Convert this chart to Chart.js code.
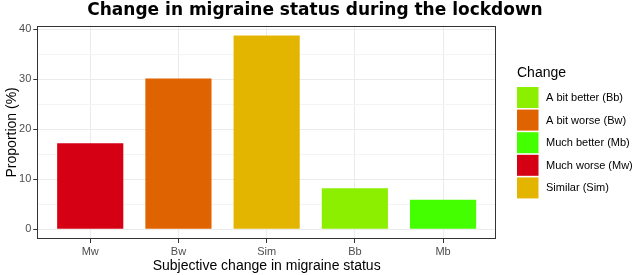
<!DOCTYPE html>
<html>
<head>
<meta charset="utf-8">
<script src="https://cdn.jsdelivr.net/npm/chart.js@4.4.1/dist/chart.umd.min.js"></script>
<style>
  html, body { margin: 0; padding: 0; background: #fff; }
  #wrap { width: 637px; height: 275px; }
</style>
</head>
<body>
<div id="wrap"><canvas id="migraineChart" width="637" height="275"></canvas></div>
<script>
// data
const categories = ['Mw', 'Bw', 'Sim', 'Bb', 'Mb'];
const proportions = [17.2, 30.2, 38.8, 8.2, 5.9];
const barColors = ['#D50013', '#DF6300', '#E3B500', '#8CEF00', '#44FF00'];
const yTicks = [0, 5, 10, 15, 20, 25, 30, 35, 40];

// legend (alphabetical, like ggplot)
const legendLabels = ['A bit better (Bb)', 'A bit worse (Bw)', 'Much better (Mb)', 'Much worse (Mw)', 'Similar (Sim)'];
const legendCodes = ['Bb', 'Bw', 'Mb', 'Mw', 'Sim'];

const chartTitle = 'Change in migraine status during the lockdown';
const fontFamily = '"Liberation Sans", Arial, sans-serif';
const yMax = Math.max(...proportions);
const yPad = yMax * 0.05;

const panelPlugin = {
    id: 'panelPlugin',
    afterDraw(chart) {
        const ctx = chart.ctx;
        const a = chart.chartArea;
        ctx.save();
        ctx.strokeStyle = '#333333';
        ctx.lineWidth = 1;
        ctx.strokeRect(Math.round(a.left) + 0.5, Math.round(a.top) + 0.5,
            Math.round(a.right - a.left) - 1, Math.round(a.bottom - a.top) - 1);

        // title
        ctx.fillStyle = '#000';
        ctx.font = 'bold 17px "DejaVu Sans", sans-serif';
        ctx.textAlign = 'center';
        ctx.textBaseline = 'middle';
        ctx.fillText(chartTitle, 315, 11);

        // legend
        const x0 = 517;
        ctx.textAlign = 'left';
        ctx.font = '14px ' + fontFamily;
        ctx.fillText('Change', x0, 73);
        ctx.font = '11px ' + fontFamily;
        legendLabels.forEach((lab, i) => {
            const y = 87 + i * 22.6;
            ctx.fillStyle = barColors[categories.indexOf(legendCodes[i])];
            ctx.fillRect(x0, y, 21.5, 21);
            ctx.fillStyle = '#000';
            ctx.fillText(lab, 546, y + 11);
        });
        ctx.restore();
    }
};

const ctx = document.getElementById('migraineChart').getContext('2d');

const chart = new Chart(ctx, {
    type: 'bar',
    data: {
        datasets: [{
            data: categories.map((c, i) => ({ x: i + 1, y: proportions[i] })),
            backgroundColor: barColors,
            borderWidth: 0,
            categoryPercentage: 1,
            barPercentage: 0.75
        }]
    },
    options: {
        responsive: false,
        animation: false,
        layout: { padding: { left: 4, right: 141, top: 25.7, bottom: 0 } },
        scales: {
            x: {
                type: 'linear',
                offset: false,
                min: 0.4,
                max: categories.length + 0.6,
                afterBuildTicks: (scale) => {
                    scale.ticks = categories.map((c, i) => ({ value: i + 1 }));
                },
                afterFit: (scale) => { scale.height = 36; },
                ticks: {
                    callback: (v) => categories[v - 1],
                    color: '#4D4D4D',
                    font: { family: fontFamily, size: 11 },
                    padding: 2,
                    maxRotation: 0
                },
                grid: {
                    offset: false,
                    color: '#EBEBEB',
                    tickColor: '#333333',
                    tickLength: 4
                },
                border: { display: false },
                title: {
                    display: true,
                    text: 'Subjective change in migraine status',
                    color: '#000',
                    font: { family: fontFamily, size: 14 },
                    padding: { top: 0, bottom: 0 }
                }
            },
            y: {
                min: -yPad,
                max: yMax + yPad,
                afterBuildTicks: (scale) => {
                    scale.ticks = yTicks.map(v => ({ value: v }));
                },
                afterFit: (scale) => { scale.width = 33.3; },
                ticks: {
                    callback: (v) => (v % 10 === 0 ? v : ''),
                    color: '#4D4D4D',
                    font: { family: fontFamily, size: 11 },
                    padding: 2
                },
                grid: {
                    color: (c) => (c.tick && c.tick.value % 10 === 0 ? '#EBEBEB' : '#F4F4F4'),
                    tickColor: (c) => (c.tick && c.tick.value % 10 === 0 ? '#333333' : 'rgba(0,0,0,0)'),
                    tickLength: 4
                },
                border: { display: false },
                title: {
                    display: true,
                    text: 'Proportion (%)',
                    color: '#000',
                    font: { family: fontFamily, size: 14 },
                    padding: { top: 0, bottom: 0 }
                }
            }
        },
        plugins: {
            legend: { display: false },
            tooltip: { enabled: false },
            title: { display: false }
        }
    },
    plugins: [panelPlugin]
});
</script>
</body>
</html>
